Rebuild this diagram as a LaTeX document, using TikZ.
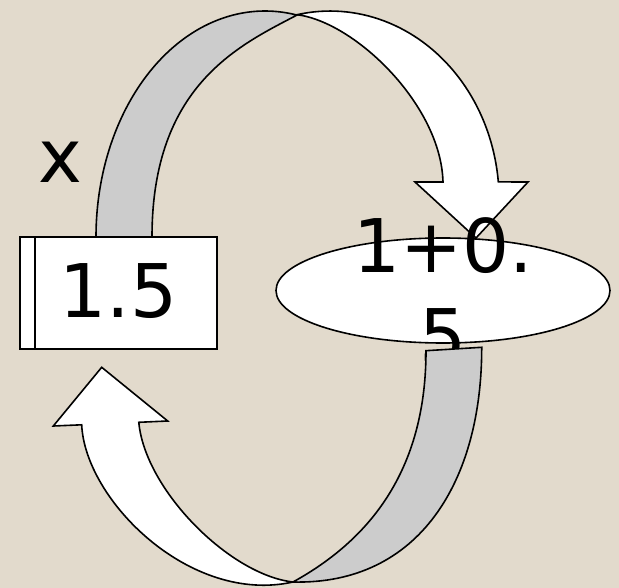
\documentclass[tikz,border=0pt]{standalone}
\usepackage{fontspec}
\setmainfont{DejaVu Sans}
\usepackage{tikz}
\usetikzlibrary{shapes.geometric}

\definecolor{slidebg}{RGB}{226,218,204}
\definecolor{backgray}{RGB}{204,204,204}
\newcommand{\bigfont}{\fontsize{74}{90}\selectfont}

\begin{document}
\begin{tikzpicture}[
    x=1pt, y=-1pt,
    valbox/.style={rectangle, draw, fill=white, line width=2.2pt, outer sep=0pt, minimum width=197pt, minimum height=112pt, inner sep=0pt, text height=54pt, text depth=5pt, font=\bigfont},
    calcoval/.style={ellipse, draw, fill=white, line width=1.6pt, minimum width=334pt, minimum height=105pt, inner sep=0pt},
    backband/.style={draw, fill=backgray, line width=1.6pt},
    frontband/.style={draw, fill=white, line width=1.6pt}
  ]

  % Background
  \fill[slidebg] (0,0) rectangle (619,588);
  \useasboundingbox (0,0) rectangle (619,588);

  % Upper arrow, from the box over to the oval
  \draw[backband] (96,237) arc[start angle=180, end angle=280.9, x radius=169, y radius=226]
    .. controls (240,45) and (152,85) .. (152,237) -- cycle;
  \draw[frontband] (297,14.7) arc[start angle=258.7, end angle=354.5, x radius=169, y radius=189]
    -- (528,182) -- (476,238) -- (415,182) -- (443,182)
    .. controls (441,105) and (355,22) .. (297,14.7) -- cycle;

  % Box with the value
  \node[valbox] (val) at (118.5,293) {1.5};
  \draw[line width=2.2pt] ([xshift=15pt]val.north west) -- ([xshift=15pt]val.south west);

  % Variable name
  \node[font=\bigfont, inner sep=0pt] (xname) at (60,162) {x};

  % Oval with the sum
  \node[calcoval] (calc) at (443,290.5) {};
  \node[font=\bigfont, align=center, inner sep=0pt] (calctext) at (calc.center) {1+0.\\5};

  % Lower arrow, from the oval back to the box
  \draw[backband] (426,350.7) -- (481.7,347.3)
    .. controls (482,480) and (420,585) .. (293,582)
    .. controls (360,545) and (426,480) .. (426,350.7) -- cycle;
  \draw[frontband] (293,582) .. controls (190,605) and (85,500) .. (81.7,424.8)
    -- (53.3,426) -- (101.7,367.3) -- (167.7,421) -- (138.8,422.3)
    .. controls (145,490) and (230,575) .. (293,582) -- cycle;

\end{tikzpicture}
\end{document}
